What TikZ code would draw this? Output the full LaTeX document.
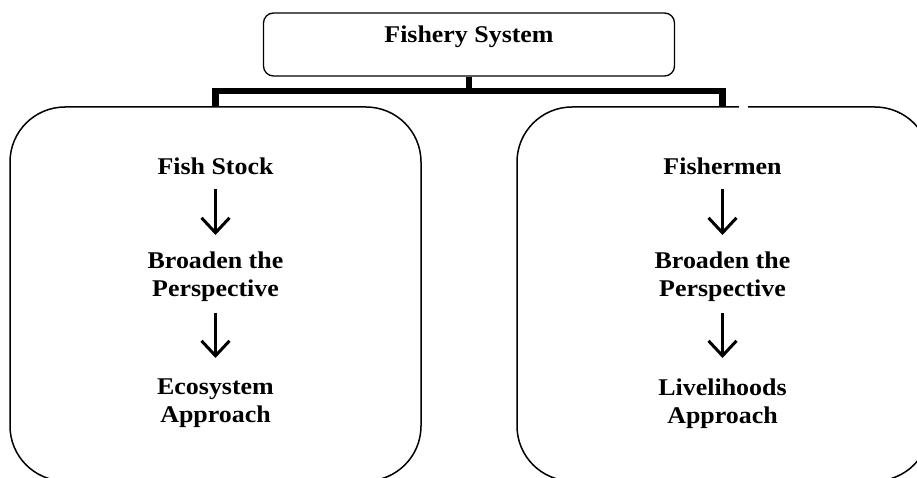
\documentclass[tikz,border=0pt]{standalone}
\usepackage{fontspec}
\newfontfamily\labfont[FakeStretch=1.08]{Liberation Serif}
\usetikzlibrary{arrows.meta}
\tikzset{
  lab/.style={font=\labfont\bfseries\fontsize{24}{28}\selectfont, inner sep=0pt, align=center, text=black},
  bigbox/.style={draw=black, line width=1.5pt, rounded corners=55pt, minimum width=411pt, minimum height=374pt, inner sep=0pt},
  topbox/.style={draw=black, line width=1.3pt, rounded corners=10pt, minimum width=411pt, minimum height=63pt, inner sep=0pt},
  bar/.style={line width=6.5pt, line join=miter, line cap=butt},
  arr/.style={line width=3pt, -{Straight Barb[length=15pt, width=28pt, line width=3pt]}}
}
\begin{document}
\begin{tikzpicture}[x=1pt, y=-1pt]
  \useasboundingbox (0,0) rectangle (917,478);
  \clip (0,0) rectangle (917,478);
  % boxes
  \node[topbox, font=\labfont\bfseries\fontsize{24}{28}\selectfont, text height=15pt, text depth=18pt] (top) at (469,44.5) {Fishery System};
  \node[bigbox] (lb) at (215.5,294) {};
  \node[bigbox, minimum width=413pt] (rb) at (723.5,294) {};
  % small gap in right box top line
  \fill[white] (739,103.5) rectangle (748,110);
  % connector bar
  \coordinate (j) at (469,91);
  \draw[bar] (top.south) -- (j);
  \draw[bar] (lb.north) |- (j) -| ([xshift=-1pt]rb.north);
  % left column
  \node[lab, anchor=base] (fs) at (215.5,175) {Fish Stock};
  \node[lab, anchor=north] (bp1) at (215.5,252) {Broaden the\\Perspective};
  \node[lab, anchor=north] (ea) at (215.5,379) {Ecosystem\\Approach};
  \draw[arr, shorten <=14pt, shorten >=17pt] (fs.south) -- (bp1.north);
  \draw[arr, shorten <=11pt, shorten >=21pt] (bp1.south) -- (ea.north);
  % right column
  \node[lab, anchor=base] (fm) at (722.5,175) {Fishermen};
  \node[lab, anchor=north] (bp2) at (722.5,252) {Broaden the\\Perspective};
  \node[lab, anchor=north] (la) at (722.5,379) {Livelihoods\\Approach};
  \draw[arr, shorten <=14pt, shorten >=17pt] (fm.south) -- (bp2.north);
  \draw[arr, shorten <=11pt, shorten >=21pt] (bp2.south) -- (la.north);
\end{tikzpicture}
\end{document}
